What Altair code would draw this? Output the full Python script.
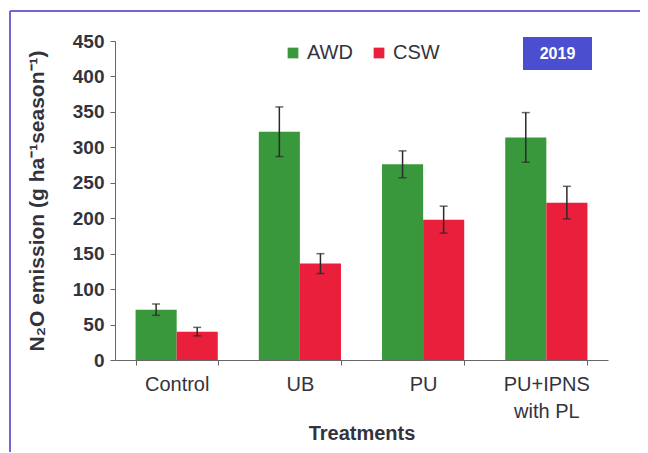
import altair as alt
import pandas as pd

treatments = ["Control", "UB", "PU", "PU+IPNS with PL"]
series = ["AWD", "CSW"]
awd_mean = [71, 322, 276, 314]
awd_err = [8, 35, 19, 35]
csw_mean = [40, 136, 198, 222]
csw_err = [6, 14, 19, 23]
colors = ["#3a983c", "#ea1f3c"]
year = ["2019"]
y_ticks = [0, 50, 100, 150, 200, 250, 300, 350, 400, 450]

rows = []
for i, t in enumerate(treatments):
    rows.append({"treatment": t, "system": "AWD", "value": awd_mean[i], "err": awd_err[i]})
    rows.append({"treatment": t, "system": "CSW", "value": csw_mean[i], "err": csw_err[i]})
df = pd.DataFrame(rows)
df["lo"] = df["value"] - df["err"]
df["hi"] = df["value"] + df["err"]

FONT = "Liberation Sans"
TXT = "#33333d"

x = alt.X(
    "treatment:N",
    sort=treatments,
    scale=alt.Scale(paddingInner=0.333, paddingOuter=0.167),
    axis=alt.Axis(
        title="Treatments",
        titleFontSize=20,
        titleFontWeight="bold",
        titleColor=TXT,
        titlePadding=2,
        labelAngle=0,
        labelFontSize=20,
        labelColor=TXT,
        labelPadding=9,
        labelLineHeight=27,
        labelExpr="datum.label == 'PU+IPNS with PL' ? ['PU+IPNS', 'with PL'] : datum.label",
        tickBand="extent",
        tickSize=5,
        domainColor="#666666",
        tickColor="#666666",
    ),
)
xo = alt.XOffset("system:N", sort=series, scale=alt.Scale(paddingInner=0, paddingOuter=0))
y_scale = alt.Scale(domain=[0, 450], nice=False)
y_axis = alt.Axis(
    values=y_ticks,
    title="N₂O emission (g ha⁻¹season⁻¹)",
    titleFontSize=21,
    titleFontWeight="bold",
    titleColor=TXT,
    titlePadding=25,
    labelFontSize=19,
    labelFontWeight="bold",
    labelColor=TXT,
    labelPadding=6,
    labelOverlap=False,
    tickSize=5,
    grid=False,
    domainColor="#666666",
    tickColor="#666666",
)

bars = alt.Chart(df).mark_bar().encode(
    x=x,
    xOffset=xo,
    y=alt.Y("value:Q", scale=y_scale, axis=y_axis),
    color=alt.Color(
        "system:N",
        scale=alt.Scale(domain=series, range=colors),
        legend=alt.Legend(
            orient="none",
            legendX=168,
            legendY=2,
            direction="horizontal",
            title=None,
            symbolType="square",
            symbolSize=115,
            symbolStrokeWidth=0,
            symbolOpacity=1,
            labelFontSize=20,
            labelColor=TXT,
            labelFont=FONT,
            labelOffset=4,
            columnPadding=16,
            padding=0,
        ),
    ),
)

err_rule = alt.Chart(df).mark_rule(color="#2a2a2a", strokeWidth=1.5).encode(
    x=x, xOffset=xo, y=alt.Y("lo:Q", scale=y_scale, axis=y_axis), y2="hi:Q"
)
cap_hi = alt.Chart(df).mark_tick(color="#2a2a2a", thickness=1.5, size=8, orient="horizontal").encode(
    x=x, xOffset=xo, y=alt.Y("hi:Q", scale=y_scale, axis=y_axis)
)
cap_lo = alt.Chart(df).mark_tick(color="#2a2a2a", thickness=1.5, size=8, orient="horizontal").encode(
    x=x, xOffset=xo, y=alt.Y("lo:Q", scale=y_scale, axis=y_axis)
)

ydf = pd.DataFrame({"label": year})
box = alt.Chart(ydf).mark_rect(color="#4b4fcf").encode(
    x=alt.value(408), x2=alt.value(477), y=alt.value(-4), y2=alt.value(29)
)
box_txt = alt.Chart(ydf).mark_text(color="white", fontWeight="bold", fontSize=16, font=FONT).encode(
    x=alt.value(442.5), y=alt.value(12.5), text="label:N"
)
frame_left = alt.Chart(ydf).mark_rule(color="#7a62d2", strokeWidth=2).encode(
    x=alt.value(-105), y=alt.value(-30), y2=alt.value(420)
)
frame_top = alt.Chart(ydf).mark_rule(color="#7a62d2", strokeWidth=2).encode(
    x=alt.value(-105), x2=alt.value(525), y=alt.value(-30)
)

chart = (
    alt.layer(bars, err_rule, cap_hi, cap_lo, frame_left, frame_top, box, box_txt)
    .properties(
        width=493,
        height=319,
        autosize=alt.AutoSizeParams(type="none"),
        padding={"left": 107, "top": 33, "right": 32, "bottom": 92},
        background="white",
    )
    .configure(font=FONT)
    .configure_view(stroke=None)
)

chart.save("out.html", embed_options={"renderer": "svg", "actions": False})
